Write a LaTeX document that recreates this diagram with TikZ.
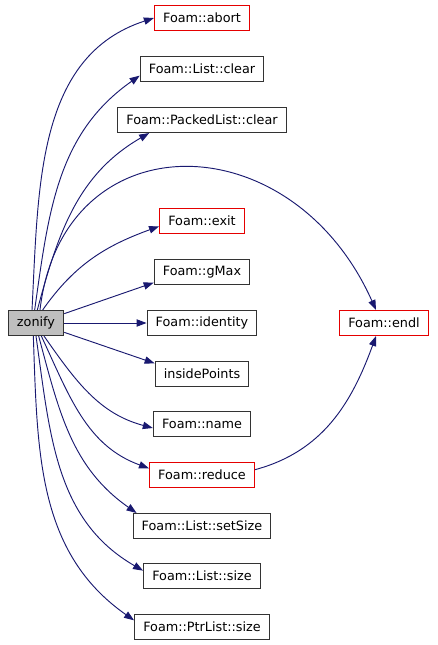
\documentclass[tikz,border=0pt]{standalone}
\usepackage{fontspec}
\setsansfont{DejaVu Sans}
\usetikzlibrary{arrows.meta}
\definecolor{edgeblue}{RGB}{25,25,112}
\begin{document}
\begin{tikzpicture}[
    x=0.75pt, y=0.75pt,
    every node/.style={font=\sffamily\fontsize{9.6}{11}\selectfont},
    fn/.style={draw=black!80, fill=white, line width=0.8pt, minimum height=18.75pt, inner xsep=6.5pt, inner ysep=0pt},
    fnred/.style={fn, draw=red!90!black},
    root/.style={fn, fill=gray!50},
    call/.style={-{Triangle[length=7.5pt,width=5.5pt]}, draw=edgeblue, line width=0.7pt}
  ]
    \useasboundingbox (0,0) rectangle (437,-645);

    \node[root] (zonify) at (36,-323) {zonify};

    \node[fnred] (abort) at (202,-18) {Foam::abort};
    \node[fn] (lclear) at (202,-69) {Foam::List::clear};
    \node[fn] (pclear) at (202,-120) {Foam::PackedList::clear};
    \node[fnred] (exit) at (202,-221) {Foam::exit};
    \node[fn] (gmax) at (202,-272) {Foam::gMax};
    \node[fn] (identity) at (202,-323) {Foam::identity};
    \node[fn] (inside) at (202,-374) {insidePoints};
    \node[fn] (name) at (202,-424) {Foam::name};
    \node[fnred] (reduce) at (202,-475) {Foam::reduce};
    \node[fn] (setsize) at (202,-526) {Foam::List::setSize};
    \node[fn] (lsize) at (202,-576) {Foam::List::size};
    \node[fn] (psize) at (202,-627) {Foam::PtrList::size};
    \node[fnred] (endl) at (384,-323) {Foam::endl};

    \draw[call] ([xshift=-3pt]zonify.north) to[out=87, in=198] (abort.west);
    \draw[call] ([xshift=-1pt]zonify.north) to[out=82, in=215] ([yshift=-5pt]lclear.west);
    \draw[call] ([xshift=1pt]zonify.north) to[out=75, in=210] ([xshift=24pt]pclear.south west);
    \draw[call] ([xshift=3pt]zonify.north) .. controls +(22,190) and +(-85,190) .. ([xshift=-6pt]endl.north);
    \draw[call] ([xshift=5pt]zonify.north) to[out=55, in=200] ([yshift=-4pt]exit.west);
    \draw[call] ([yshift=7pt]zonify.east) -- ([yshift=-8pt]gmax.west);
    \draw[call] (zonify.east) -- (identity.west);
    \draw[call] ([yshift=-7pt]zonify.east) -- ([yshift=8pt]inside.west);
    \draw[call] ([xshift=6pt]zonify.south) to[out=-55, in=165] ([yshift=-3pt]name.west);
    \draw[call] ([xshift=4pt]zonify.south) to[out=-65, in=160] ([yshift=5pt]reduce.west);
    \draw[call] ([xshift=2pt]zonify.south) to[out=-75, in=145] ([xshift=3pt]setsize.north west);
    \draw[call] ([xshift=0pt]zonify.south) to[out=-82, in=150] ([yshift=4pt]lsize.west);
    \draw[call] ([xshift=-2pt]zonify.south) to[out=-88, in=145] ([yshift=5pt]psize.west);
    \draw[call] ([yshift=4pt]reduce.east) to[out=15, in=-110] ([xshift=-6pt]endl.south);
  \end{tikzpicture}
\end{document}
